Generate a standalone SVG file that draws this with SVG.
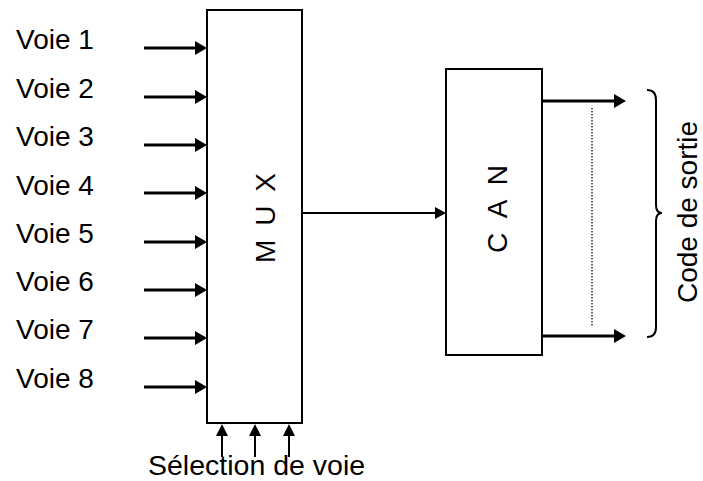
<svg xmlns="http://www.w3.org/2000/svg" width="703" height="481" viewBox="0 0 703 481">
<style>
text{font-family:"Liberation Sans",Arial,sans-serif;font-size:28px;fill:#000}
.box{fill:#fff;stroke:#000;stroke-width:2}
.thick{stroke:#000;stroke-width:3;fill:none}
.thin{stroke:#000;stroke-width:2;fill:none}
.head{fill:#000}
</style>
<rect width="703" height="481" fill="#fff"/>
<g id="labels">
<text x="16" y="49">Voie 1</text>
<text x="16" y="98">Voie 2</text>
<text x="16" y="146">Voie 3</text>
<text x="16" y="195">Voie 4</text>
<text x="16" y="243">Voie 5</text>
<text x="16" y="291">Voie 6</text>
<text x="16" y="339">Voie 7</text>
<text x="16" y="388">Voie 8</text>
<text x="148" y="475" style="font-size:28.5px">Sélection de voie</text>
</g>
<g id="mux">
<rect class="box" x="207" y="10" width="95" height="413"/>
<text transform="translate(275,218) rotate(-90)" text-anchor="middle" textLength="90" lengthAdjust="spacing">M U X</text>
</g>
<g id="can">
<rect class="box" x="446" y="69" width="96" height="286"/>
<text transform="translate(507,209) rotate(-90)" text-anchor="middle" textLength="88" lengthAdjust="spacing">C A N</text>
</g>
<g id="code">
<path class="thin" d="M647,90 Q656,90 656,100 L656,205 Q656,213 662,213 Q656,213 656,221 L656,327 Q656,337 647,337"/>
<text transform="translate(697,212) rotate(-90)" text-anchor="middle">Code de sortie</text>
</g>
<g id="connectors">
<g class="thick">
<line x1="144" y1="48" x2="197" y2="48"/>
<line x1="144" y1="97" x2="197" y2="97"/>
<line x1="144" y1="145" x2="197" y2="145"/>
<line x1="144" y1="193" x2="197" y2="193"/>
<line x1="144" y1="242" x2="197" y2="242"/>
<line x1="144" y1="290" x2="197" y2="290"/>
<line x1="144" y1="338" x2="197" y2="338"/>
<line x1="144" y1="387" x2="197" y2="387"/>
<line x1="542" y1="101" x2="616" y2="101"/>
<line x1="542" y1="336" x2="616" y2="336"/>
</g>
<g class="head">
<polygon points="195,41 207,48 195,55"/>
<polygon points="195,90 207,97 195,104"/>
<polygon points="195,138 207,145 195,152"/>
<polygon points="195,186 207,193 195,200"/>
<polygon points="195,235 207,242 195,249"/>
<polygon points="195,283 207,290 195,297"/>
<polygon points="195,331 207,338 195,345"/>
<polygon points="195,380 207,387 195,394"/>
<polygon points="614,94 626,101 614,108"/>
<polygon points="614,329 626,336 614,343"/>
<polygon points="435,207 446,213 435,219"/>
<polygon points="216,436 222,424 228,436"/>
<polygon points="249,436 255,424 261,436"/>
<polygon points="283,436 289,424 295,436"/>
</g>
<line class="thin" x1="302" y1="213" x2="437" y2="213"/>
<g class="thin" stroke-width="2.5">
<line x1="222" y1="434" x2="222" y2="457"/>
<line x1="255" y1="434" x2="255" y2="457"/>
<line x1="289" y1="434" x2="289" y2="457"/>
</g>
<line x1="592" y1="108" x2="592" y2="327" stroke="#000" stroke-width="1.2" stroke-dasharray="1.5,1.5"/>
</g>
</svg>
